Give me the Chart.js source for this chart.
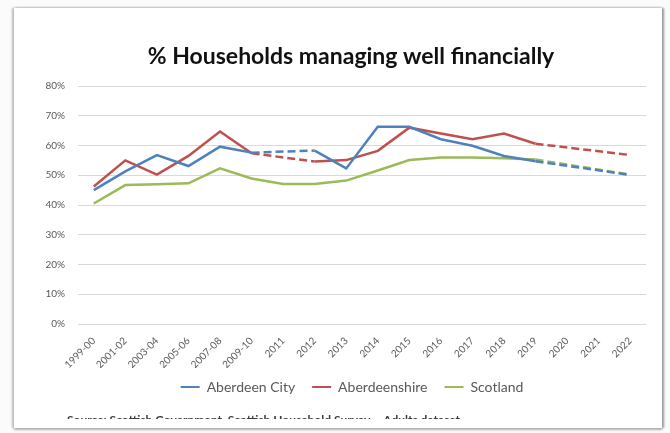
<!DOCTYPE html>
<html>
<head>
<meta charset="utf-8">
<script src="https://cdn.jsdelivr.net/npm/chart.js@4"></script>
<style>
  html, body { margin: 0; padding: 0; background: #fbfbfb; }
  #frame {
    position: absolute; left: 14px; top: 8px; width: 648px; height: 420px;
    background: #ffffff;
    box-shadow: -2px 0 2px #bdbdbd, 2px 0 2px #9a9a9a, 0 2px 2px #b5b5b5, 0 -1px 2px #e6e6e6;
  }
  #wrap { position: absolute; left: 0; top: 0; width: 670px; height: 433px; }
</style>
</head>
<body>
<div id="frame"></div>
<div id="wrap"><canvas id="c" width="670" height="433"></canvas></div>
<script>
const categories = ["1999-00","2001-02","2003-04","2005-06","2007-08","2009-10","2011","2012","2013","2014","2015","2016","2017","2018","2019","2020","2021","2022"];
const aberdeenCity  = [45.0, 51.3, 56.8, 53.1, 59.6, 57.6, null, 58.3, 52.3, 66.3, 66.3, 62.1, 59.9, 56.5, 54.7, null, null, 50.1];
const aberdeenshire = [46.2, 55.0, 50.2, 56.5, 64.7, 57.4, null, 54.6, 55.1, 58.2, 66.0, 64.0, 62.1, 64.0, 60.6, null, null, 56.8];
const scotland      = [40.5, 46.7, 47.0, 47.3, 52.3, 48.9, 47.1, 47.1, 48.2, 51.6, 55.1, 56.0, 56.0, 55.7, 55.3, null, null, 50.2];
const yTicks = [0, 10, 20, 30, 40, 50, 60, 70, 80];
const seriesNames = ["Aberdeen City", "Aberdeenshire", "Scotland"];
const seriesColors = ["#4F81BD", "#C0504D", "#9BBB59"];
const titleText = "% Households managing well financially";
const sourceText = "Source: Scottish Government, Scottish Household Survey \u2013 Adults dataset";

const seriesData = [aberdeenCity, aberdeenshire, scotland];
const dashIfGap = (ctx) => (ctx.p0.skip || ctx.p1.skip) ? [8, 4] : undefined;

const textPlugin = {
  id: 'extraText',
  afterLayout(chart) {
    const lg = chart.legend;
    if (lg) {
      lg.left += 15; lg.right += 15;
      lg.top -= 5; lg.bottom -= 5;
    }
  },
  afterDraw(chart) {
    const ctx = chart.ctx;
    ctx.save();
    ctx.font = "bold 23px Lato";
    ctx.fillStyle = "#111111";
    ctx.textAlign = "center";
    ctx.textBaseline = "middle";
    ctx.fillText(titleText, 351, 57);
    ctx.beginPath();
    ctx.rect(0, 0, 670, 419);
    ctx.clip();
    ctx.font = "bold 12px Lato";
    ctx.fillStyle = "#3a3a3a";
    ctx.textBaseline = "alphabetic";
    ctx.textAlign = "left";
    ctx.fillText(sourceText, 67, 424);
    ctx.restore();
  }
};

new Chart(document.getElementById('c'), {
  type: 'line',
  data: {
    labels: categories,
    datasets: seriesData.map((d, i) => ({
      label: seriesNames[i],
      data: d,
      borderColor: seriesColors[i],
      backgroundColor: seriesColors[i],
      borderWidth: 2.5,
      pointRadius: 0,
      pointHoverRadius: 0,
      tension: 0,
      spanGaps: true,
      segment: { borderDash: dashIfGap }
    }))
  },
  options: {
    responsive: false,
    animation: false,
    layout: { padding: { left: 28, right: 24, top: 86, bottom: 24 } },
    plugins: {
      title: { display: false },
      legend: {
        position: 'bottom',
        labels: {
          color: "#595959",
          font: { family: "Lato", size: 14 },
          boxWidth: 19,
          boxHeight: 2,
          padding: 17,
          generateLabels(chart) {
            return Chart.defaults.plugins.legend.labels.generateLabels(chart).map(l => ({
              ...l, lineWidth: 0, fillStyle: l.strokeStyle, lineDash: []
            }));
          }
        }
      },
      tooltip: { enabled: false }
    },
    scales: {
      x: {
        offset: true,
        grid: { display: false },
        border: { display: false },
        ticks: {
          color: "#595959",
          font: { family: "Lato", size: 10 },
          minRotation: 45, maxRotation: 45,
          autoSkip: false,
          padding: 3
        },
        afterFit(scale) { scale.height = 44; }
      },
      y: {
        min: 0, max: 80,
        afterBuildTicks(scale) { scale.ticks = yTicks.map(v => ({ value: v })); },
        grid: { color: "#D9D9D9", lineWidth: 1, drawTicks: false },
        border: { display: false },
        ticks: {
          color: "#595959",
          font: { family: "Lato", size: 10 },
          padding: 13,
          callback: (v) => v + "%"
        },
        afterFit(scale) { scale.width = 50; }
      }
    }
  },
  plugins: [textPlugin]
});
</script>
</body>
</html>
